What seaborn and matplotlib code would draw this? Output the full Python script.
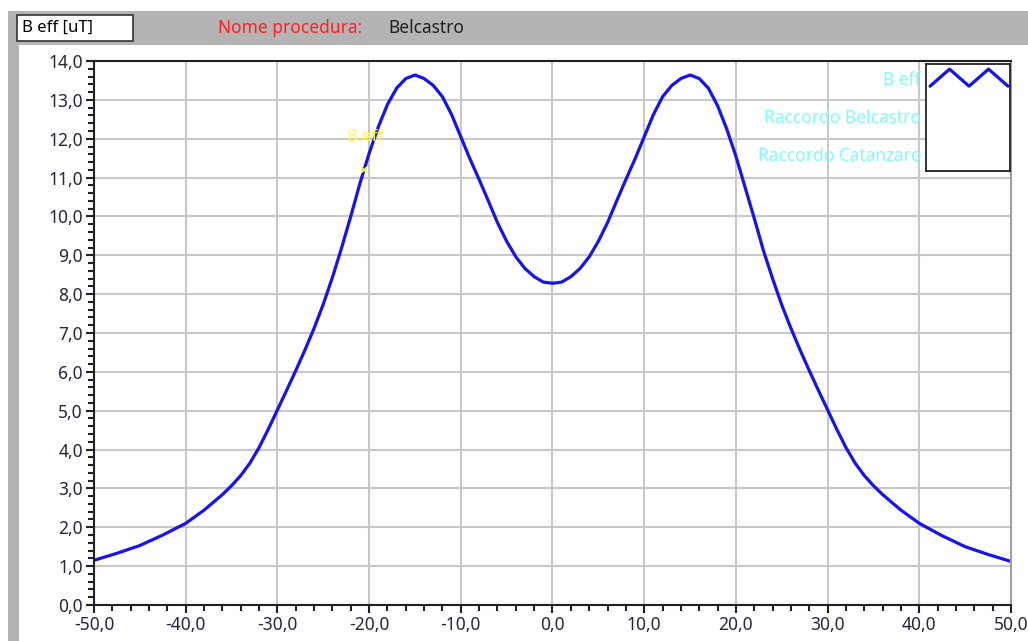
import numpy as np
import pandas as pd
import matplotlib
matplotlib.use("Agg")
import matplotlib.pyplot as plt
from matplotlib.patches import Rectangle
from matplotlib.ticker import MultipleLocator, FuncFormatter
import seaborn as sns

# distanza dall'asse [m]
x_sx = [-50, -47.5, -45, -42.5, -40, -38, -36, -35, -34, -33, -32, -31, -30, -29, -28, -27,
        -26, -25, -24, -23, -22, -21, -20, -19, -18, -17, -16, -15, -14, -13, -12, -11,
        -10, -9, -8, -7, -6, -5, -4, -3, -2, -1, 0]
b_sx = [1.15, 1.33, 1.53, 1.80, 2.10, 2.44, 2.84, 3.07, 3.33, 3.65, 4.05, 4.52, 5.02, 5.52,
        6.03, 6.56, 7.12, 7.74, 8.43, 9.19, 10.00, 10.85, 11.62, 12.30, 12.88, 13.30, 13.55,
        13.64, 13.55, 13.37, 13.08, 12.62, 12.05, 11.48, 10.95, 10.40, 9.84, 9.36, 8.96,
        8.66, 8.45, 8.31, 8.28]
x_dx = [1, 2, 3, 4, 5, 6, 7, 8, 9, 10, 11, 12, 13, 14, 15, 16, 17, 18, 19, 20, 21, 22, 23,
        24, 25, 26, 27, 28, 29, 30, 31, 32, 33, 34, 35, 36, 38, 40, 42.5, 45, 47.5, 50]
b_dx = [8.31, 8.45, 8.66, 8.96, 9.36, 9.84, 10.40, 10.95, 11.48, 12.05, 12.62, 13.08, 13.37,
        13.55, 13.64, 13.55, 13.30, 12.85, 12.25, 11.55, 10.75, 9.95, 9.12, 8.40, 7.72, 7.12,
        6.56, 6.03, 5.52, 5.02, 4.52, 4.05, 3.65, 3.33, 3.07, 2.84, 2.44, 2.10, 1.78, 1.50,
        1.30, 1.12]

cursore = (-20.6, 11.2)
legenda = ["B eff", "Raccordo Belcastro", "Raccordo Catanzaro"]
simbolo_x = [0, 1, 2, 3, 4]
simbolo_y = [0, 1, 0, 1, 0]

df = pd.DataFrame({"x": x_sx + x_dx, "B": b_sx + b_dx})

sns.set_style("white")
plt.rcParams["font.family"] = ["Noto Sans", "DejaVu Sans"]

fig = plt.figure(figsize=(10.28, 6.41), dpi=100)
fig.patch.set_facecolor("white")

# barra superiore e bordo sinistro
fig.patches.append(Rectangle((0.0078, 0.9298), 0.9922, 0.053, transform=fig.transFigure,
                             facecolor="#b4b4b4", edgecolor="none", zorder=0))
fig.patches.append(Rectangle((0.0078, 0.0), 0.0107, 0.93, transform=fig.transFigure,
                             facecolor="#b4b4b4", edgecolor="none", zorder=0))
fig.patches.append(Rectangle((0.01654, 0.936), 0.1128, 0.0406, transform=fig.transFigure,
                             facecolor="white", edgecolor="#333333", linewidth=1.2, zorder=1))
fig.text(0.0214, 0.9563, "B eff [uT]", fontsize=12, color="black", va="center")
fig.text(0.212, 0.9563, "Nome procedura:", fontsize=12.5, color="#ff2020", va="center")
fig.text(0.378, 0.9563, "Belcastro", fontsize=12.5, color="#202020", va="center")

ax = fig.add_axes([0.0914, 0.0562, 0.8921, 0.8486])
sns.lineplot(data=df, x="x", y="B", color="#1414f0", linewidth=2.3, ax=ax)

ax.set_xlim(-50, 50)
ax.set_ylim(0, 14)
ax.xaxis.set_major_locator(MultipleLocator(10))
ax.xaxis.set_minor_locator(MultipleLocator(2))
ax.yaxis.set_major_locator(MultipleLocator(1))
ax.yaxis.set_minor_locator(MultipleLocator(0.2))
fmt = FuncFormatter(lambda v, p: f"{v:.1f}".replace(".", ","))
ax.xaxis.set_major_formatter(fmt)
ax.yaxis.set_major_formatter(fmt)
ax.grid(True, which="major", color="#c8c8c8", linewidth=1.5)
ax.tick_params(which="major", direction="out", length=6, width=1.5, color="#222222",
               labelsize=12.5, labelcolor="#25253f", pad=2)
ax.tick_params(which="minor", direction="out", length=4, width=1.5, color="#222222")
ax.tick_params(axis="x", which="both", bottom=True)
ax.tick_params(axis="y", which="both", left=True)
ax.set_xlabel("")
ax.set_ylabel("")
for s in ["left", "bottom", "top"]:
    ax.spines[s].set_color("#222222")
    ax.spines[s].set_linewidth(1.5)
ax.spines["right"].set_color("#a0a0a0")
ax.spines["right"].set_linewidth(1.5)

# cursore
ax.plot(*cursore, marker="x", color="#ffff40", markersize=5, mew=1.2)
ax.text(cursore[0] + 0.2, cursore[1] + 0.85, "B eff", color="#ffff40", fontsize=12,
        ha="center", va="center")

# legenda
for i, t in enumerate(legenda):
    fig.text(0.896, 0.875 - i * 0.0593, t, color="#80fcfc", fontsize=12.5,
             ha="right", va="center")
leg = fig.add_axes([0.9008, 0.7332, 0.0817, 0.1669])
leg.plot(simbolo_x, simbolo_y, color="#1414f0", linewidth=2.3)
leg.set_xlim(-0.207, 4.103)
leg.set_ylim(-4.99, 1.30)
leg.set_xticks([])
leg.set_yticks([])
leg.set_facecolor("white")
for s in leg.spines.values():
    s.set_color("#222222")
    s.set_linewidth(1.3)

fig.savefig("out.png", dpi=100)
